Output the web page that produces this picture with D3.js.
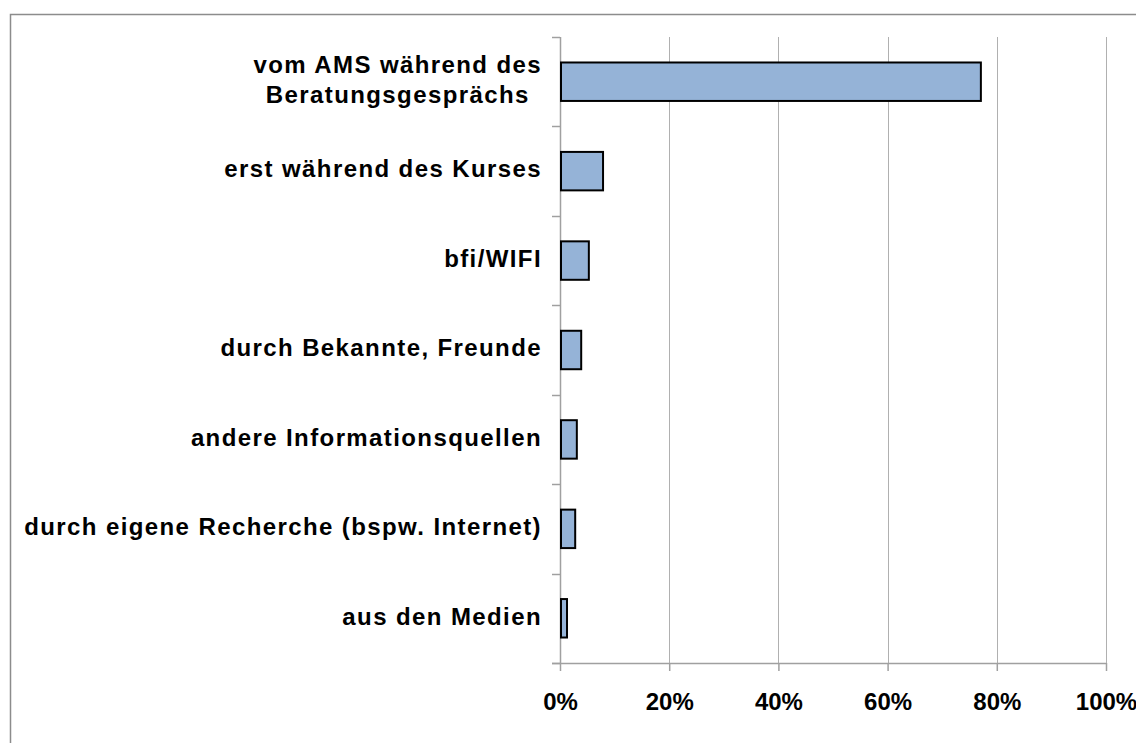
<!DOCTYPE html>
<html>
<head>
<meta charset="utf-8">
<script src="https://cdn.jsdelivr.net/npm/d3@7"></script>
<style>
  body { margin: 0; background: #fff; }
  text { font-family: "Liberation Sans", Arial, sans-serif; font-weight: bold; fill: #000; }
</style>
</head>
<body>
<div id="chart"></div>
<script>
// data
var categories = [
  ["vom AMS während des", "Beratungsgesprächs"],
  ["erst während des Kurses"],
  ["bfi/WIFI"],
  ["durch Bekannte, Freunde"],
  ["andere Informationsquellen"],
  ["durch eigene Recherche (bspw. Internet)"],
  ["aus den Medien"]
];
var values = [0.769, 0.077, 0.051, 0.037, 0.029, 0.026, 0.011];
var xTicks = [0, 0.2, 0.4, 0.6, 0.8, 1.0];

var width = 1136, height = 743;
var margin = {top: 37, right: 30, bottom: 80, left: 560};
var plotW = 1106 - margin.left;
var plotH = 663 - margin.top;

var svg = d3.select("#chart").append("svg")
    .attr("width", width)
    .attr("height", height);

// outer chart border
svg.append("rect")
    .attr("x", 10.5).attr("y", 14.5)
    .attr("width", 1140).attr("height", 740)
    .attr("fill", "none")
    .attr("stroke", "#8c8c8c")
    .attr("stroke-width", 1.5);

var g = svg.append("g")
    .attr("transform", "translate(" + margin.left + "," + margin.top + ")");

var x = d3.scaleLinear().domain([0, 1]).range([0, plotW]);

var idx = d3.range(categories.length);
var y = d3.scaleBand().domain(idx).range([0, plotH])
    .paddingInner(0.57).paddingOuter(0.285);

// gridlines
g.selectAll(".grid")
  .data(xTicks.slice(1))
  .join("line")
    .attr("class", "grid")
    .attr("x1", d => Math.round(x(d)) + 0.5)
    .attr("x2", d => Math.round(x(d)) + 0.5)
    .attr("y1", 0)
    .attr("y2", plotH)
    .attr("stroke", "#b0b0b0")
    .attr("stroke-width", 1);

// bottom axis
var xAxis = g.append("g")
    .attr("transform", "translate(0," + plotH + ")")
    .call(d3.axisBottom(x).tickValues(xTicks).tickFormat(d3.format(".0%"))
      .tickSizeInner(8).tickSizeOuter(0).tickPadding(22));
xAxis.select(".domain").remove();
xAxis.append("line")
    .attr("x1", -8).attr("x2", plotW).attr("y1", 0.5).attr("y2", 0.5)
    .attr("stroke", "#a0a0a0").attr("stroke-width", 1.5);
xAxis.selectAll(".tick line").attr("stroke", "#a0a0a0").attr("stroke-width", 1.5);
xAxis.selectAll(".tick text")
    .attr("font-size", "24px")
    .attr("font-family", "'Liberation Sans', Arial, sans-serif")
    .attr("font-weight", "bold")
    .attr("fill", "#000");

// left axis: line plus ticks at band boundaries
var bounds = d3.range(categories.length + 1).map(i => i * plotH / categories.length);
g.append("line")
    .attr("x1", 0.5).attr("x2", 0.5).attr("y1", 0).attr("y2", plotH)
    .attr("stroke", "#a0a0a0").attr("stroke-width", 1.5);
g.selectAll(".ytick")
  .data(bounds)
  .join("line")
    .attr("class", "ytick")
    .attr("x1", -8).attr("x2", 0)
    .attr("y1", d => Math.round(d) + 0.5)
    .attr("y2", d => Math.round(d) + 0.5)
    .attr("stroke", "#a0a0a0").attr("stroke-width", 1.5);

// bars
g.selectAll(".bar")
  .data(values)
  .join("rect")
    .attr("class", "bar")
    .attr("x", 1)
    .attr("y", (d, i) => y(i))
    .attr("width", d => x(d))
    .attr("height", y.bandwidth())
    .attr("fill", "#95b3d7")
    .attr("stroke", "#000")
    .attr("stroke-width", 2);

// category labels
var labels = g.selectAll(".cat")
  .data(categories)
  .join("text")
    .attr("class", "cat")
    .attr("font-size", "24px")
    .attr("letter-spacing", "1.4px")
    .attr("text-anchor", "middle")
    .attr("transform", function(d, i) {
      return "translate(0," + (y(i) + y.bandwidth() / 2) + ")";
    });

labels.each(function(lines) {
  var t = d3.select(this);
  var lh = 30;
  lines.forEach(function(s, k) {
    t.append("tspan")
      .attr("x", 0)
      .attr("y", (k - (lines.length - 1) / 2) * lh)
      .attr("dy", "0.26em")
      .text(s);
  });
  // right-align the block, lines centred to each other
  var w = this.getBBox().width;
  t.selectAll("tspan").attr("x", -18 - w / 2);
});
</script>
</body>
</html>
